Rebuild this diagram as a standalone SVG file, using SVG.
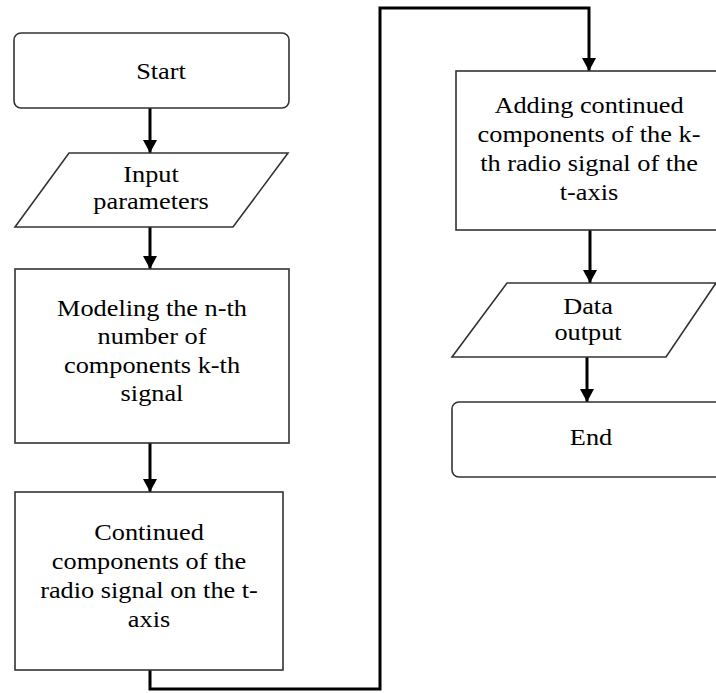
<svg xmlns="http://www.w3.org/2000/svg" width="716" height="693" viewBox="0 0 716 693">
<defs>
<style>
.shape{fill:#ffffff;stroke:#333333;stroke-width:1.6}
.conn{fill:none;stroke:#000000;stroke-width:3}
.lbl{font-family:"Liberation Serif","Times New Roman",serif;font-size:23.5px;fill:#000000;text-anchor:middle}
</style>
<marker id="arr" markerUnits="userSpaceOnUse" markerWidth="14" markerHeight="14" refX="13" refY="7" orient="auto">
<path d="M0,0 L13,7 L0,14 z" fill="#000000"/>
</marker>
</defs>
<rect width="716" height="693" fill="#ffffff"/>
<g id="connectors">
<path class="conn" d="M150,108 V153" marker-end="url(#arr)"/>
<path class="conn" d="M150,227 V269" marker-end="url(#arr)"/>
<path class="conn" d="M150,443 V492" marker-end="url(#arr)"/>
<path class="conn" d="M150,670 V689 H380 V8 H589 V71" marker-end="url(#arr)"/>
<path class="conn" d="M590,230 V283" marker-end="url(#arr)"/>
<path class="conn" d="M587,357 V402" marker-end="url(#arr)"/>
</g>
<g id="start">
<rect class="shape" x="14" y="33" width="275" height="75" rx="7"/>
<text class="lbl" transform="matrix(1.12 0 0 1 161 79)">Start</text>
</g>
<g id="input">
<polygon class="shape" points="69,153 288,153 233,227 15,227"/>
<g transform="matrix(1.12 0 0 1 151 0)">
<text class="lbl" y="182">Input</text>
<text class="lbl" y="209">parameters</text>
</g>
</g>
<g id="modeling">
<rect class="shape" x="15" y="269" width="274" height="174"/>
<g transform="matrix(1.12 0 0 1 152 0)">
<text class="lbl" y="316">Modeling the n-th</text>
<text class="lbl" y="344.5">number of</text>
<text class="lbl" y="373">components k-th</text>
<text class="lbl" y="401.5">signal</text>
</g>
</g>
<g id="continued">
<rect class="shape" x="15" y="492" width="268" height="178"/>
<g transform="matrix(1.12 0 0 1 149 0)">
<text class="lbl" y="540">Continued</text>
<text class="lbl" y="569">components of the</text>
<text class="lbl" y="598">radio signal on the t-</text>
<text class="lbl" y="627">axis</text>
</g>
</g>
<g id="adding">
<rect class="shape" x="456" y="71" width="268" height="159"/>
<g transform="matrix(1.12 0 0 1 589 0)">
<text class="lbl" y="113">Adding continued</text>
<text class="lbl" y="142">components of the k-</text>
<text class="lbl" y="171">th radio signal of the</text>
<text class="lbl" y="200">t-axis</text>
</g>
</g>
<g id="output">
<polygon class="shape" points="507,283 716,283 666,357 452,357"/>
<g transform="matrix(1.12 0 0 1 588 0)">
<text class="lbl" y="314">Data</text>
<text class="lbl" y="340">output</text>
</g>
</g>
<g id="end">
<rect class="shape" x="452" y="402" width="275" height="75" rx="7"/>
<text class="lbl" transform="matrix(1.12 0 0 1 591 445)">End</text>
</g>
</svg>
